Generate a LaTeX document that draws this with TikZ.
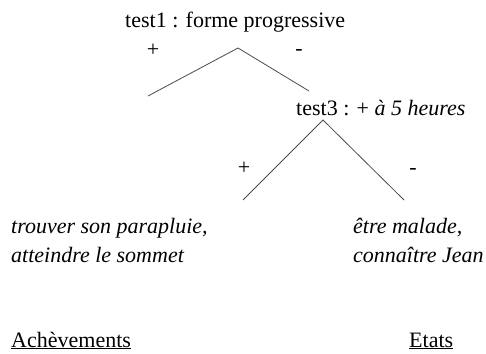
\documentclass[tikz,border=0pt]{standalone}
\usepackage{fontspec}
\setmainfont{Liberation Serif}
\begin{document}
\begin{tikzpicture}[x=1pt,y=-1pt,
	every node/.style={font=\fontsize{22}{29}\selectfont,inner sep=0pt},
	branch/.style={draw=black!70,line width=0.8pt}]
	\useasboundingbox (0,0) rectangle (486,353);
	\path
	(125,28)  node[anchor=base west] (test1) {test1 : forme progressive}
	(238,48)  coordinate (r1)
	(148,96)  coordinate (p1)
	(309,91)  coordinate (m1)
	(153,50)  node (plus1) {+}
	(299,52)  node (minus1) {-}
	(296,115) node[anchor=base west] (test3) {test3 : + \textit{à 5 heures}}
	(323,120) coordinate (r3)
	(243,200) coordinate (p3)
	(404,200) coordinate (m3)
	(244,168) node (plus3) {+}
	(413,171) node (minus3) {-}
	% base = baseline of the last line
	(11,262)  node[anchor=base west,align=left] (ach) {\textit{trouver son parapluie,}\\\textit{atteindre le sommet}}
	(353,262) node[anchor=base west,align=left] (eta) {\textit{être malade,}\\\textit{connaître Jean}}
	(11,347)  node[anchor=base west] (achlab) {\underline{Achèvements}}
	(409,347) node[anchor=base west] (etalab) {\underline{Etats}};
	\draw[branch] (p1)--(r1)--(m1);
	\draw[branch] (p3)--(r3)--(m3);
\end{tikzpicture}
\end{document}
